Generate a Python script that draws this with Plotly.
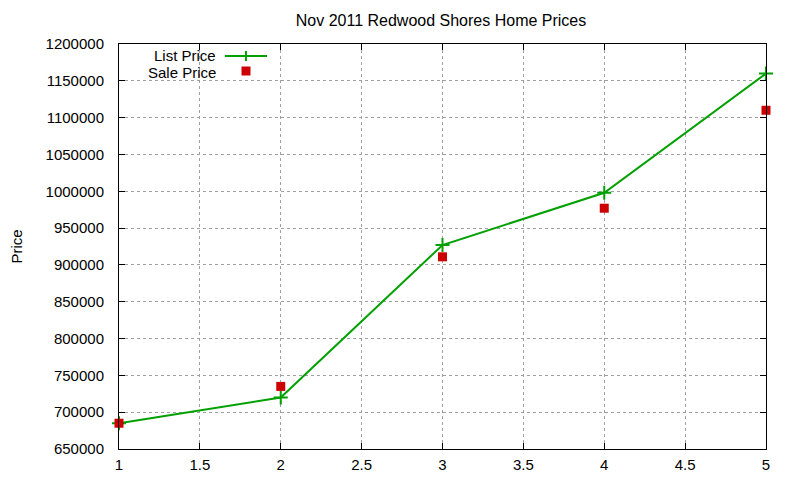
import plotly.graph_objects as go

# Redwood Shores, Nov 2011
idx = [1, 2, 3, 4, 5]
list_price = [685000, 720000, 927000, 998000, 1160000]
sale_price = [685000, 735000, 911000, 977000, 1110000]

green = "#00a000"
red = "#cc0000"
font = dict(family="Liberation Sans, Arial, sans-serif", size=15, color="black")
big = dict(font, size=16)

fig = go.Figure()
fig.add_trace(go.Scatter(x=idx, y=list_price, mode="lines+markers", name="List Price",
                         line=dict(color=green, width=2),
                         marker=dict(symbol="cross-thin", size=10, line=dict(color=green, width=2)),
                         cliponaxis=False))
fig.add_trace(go.Scatter(x=idx, y=sale_price, mode="markers", name="Sale Price",
                         marker=dict(symbol="square", size=9, color=red),
                         cliponaxis=False))

axis = dict(showline=True, linecolor="black", linewidth=1, mirror="allticks",
            ticks="inside", ticklen=6, tickcolor="black",
            showgrid=True, gridcolor="#a0a0a0", gridwidth=1, griddash="3px,3px",
            zeroline=False, tickfont=font, automargin=False)

fig.update_xaxes(axis, range=[1, 5], dtick=0.5, tick0=1, ticklabelstandoff=2)
fig.update_yaxes(axis, range=[650000, 1200000], dtick=50000, tick0=650000,
                 tickformat="d", ticklabelstandoff=11,
                 title=dict(text="Price", font=font, standoff=29))

# page is drawn with an 8px body margin, so work in page pixels and shift
W, H, off = 800, 480, 8
left, right, top, bottom = 119, 766, 44, 449
pw, ph = right - left, bottom - top


def px(x):
    return (x - left) / pw


def py(y):
    return (bottom - y) / ph


# gnuplot-style key: text on the left, sample on the right
for name, y in [("List Price", 55), ("Sale Price", 72)]:
    fig.add_annotation(x=px(218), y=py(y), xref="paper", yref="paper", height=14,
                       text=name, showarrow=False, font=font, xanchor="right", yanchor="middle")
fig.add_shape(type="line", xref="paper", yref="paper",
              x0=px(225), x1=px(267), y0=py(56), y1=py(56),
              line=dict(color=green, width=2))
fig.add_shape(type="line", xref="paper", yref="paper",
              x0=px(246), x1=px(246), y0=py(61), y1=py(51),
              line=dict(color=green, width=2))
fig.add_shape(type="rect", xref="paper", yref="paper",
              x0=px(241.5), x1=px(250.5), y0=py(75.5), y1=py(66.5),
              line=dict(width=0), fillcolor=red)

fig.update_layout(
    width=W, height=H,
    margin=dict(l=left - off, r=W + off - right, t=top - off, b=H + off - bottom),
    paper_bgcolor="white", plot_bgcolor="white",
    showlegend=False,
    font=font,
    title=dict(text="Nov 2011 Redwood Shores Home Prices", x=(441 - off) / W, xanchor="center",
               y=1 - (20 - off) / H, yanchor="middle", font=big),
)

fig.write_html("out.html")
